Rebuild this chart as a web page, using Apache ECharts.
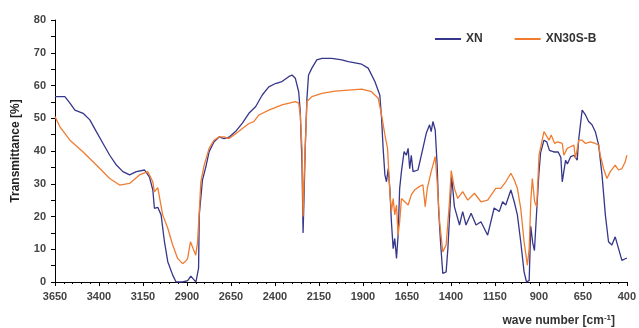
<!DOCTYPE html>
<html>
<head>
<meta charset="utf-8">
<script src="https://cdn.jsdelivr.net/npm/echarts@6/dist/echarts.min.js"></script>
<style>
  html, body { margin: 0; padding: 0; background: #fff; }
  #main { width: 639px; height: 328px; }
</style>
</head>
<body>
<div id="main"></div>
<script>
// FTIR spectra
var xnWave = [3650, 3594, 3565, 3537, 3490, 3452, 3415, 3377, 3339, 3301, 3264, 3226, 3188, 3141, 3113, 3094, 3085, 3066, 3047, 3028,
  3009, 2981, 2962, 2925, 2896, 2878, 2862, 2849, 2834, 2830, 2812, 2793, 2774, 2746, 2717, 2689, 2661, 2623, 2585, 2548,
  2510, 2472, 2435, 2397, 2360, 2322, 2303, 2284, 2265, 2256, 2246, 2240, 2235, 2228, 2218, 2209, 2190, 2162, 2133, 2077,
  2020, 1983, 1907, 1870, 1832, 1804, 1794, 1785, 1775, 1766, 1756, 1747, 1738, 1728, 1719, 1709, 1700, 1691, 1681, 1666,
  1653, 1643, 1634, 1625, 1615, 1587, 1559, 1540, 1521, 1512, 1502, 1489, 1478, 1470, 1459, 1446, 1427, 1417, 1399, 1395,
  1380, 1351, 1333, 1314, 1285, 1257, 1229, 1191, 1154, 1125, 1106, 1088, 1059, 1040, 1022, 1003, 984, 970, 955, 946,
  935, 925, 912, 900, 890, 871, 855, 840, 815, 790, 775, 767, 758, 748, 738, 720, 701, 682, 673, 654,
  635, 617, 598, 579, 570, 560, 541, 522, 504, 485, 466, 447, 428, 409, 400];
var xnT = [56.6, 56.6, 54.6, 52.5, 51.5, 49.5, 45.9, 42.3, 38.7, 35.7, 33.7, 32.7, 33.7, 34.2, 32.0, 28.1, 22.5, 22.8, 20.5, 12.3,
  6.2, 2.1, 0, 0, 0.4, 1.8, 0.8, 0, 4.2, 20.5, 31.1, 35.1, 39.8, 42.8, 44.3, 43.8, 44.2, 46, 48.5, 51.5,
  53.5, 57.1, 59.6, 60.6, 61.2, 62.7, 63.2, 62.2, 58.1, 52, 35.7, 15, 25, 40.8, 56.1, 63.2, 65.3, 67.8, 68.3, 68.3,
  67.8, 67.3, 66.5, 65.3, 61.2, 57.1, 50, 40.8, 32.7, 30.6, 34.6, 28.6, 18.4, 10.2, 13.3, 7.2, 14.3, 28.6, 33.7, 39.8,
  38.7, 40.8, 34.6, 38.7, 33.7, 34.2, 40.8, 45.4, 48, 45.9, 49, 46.4, 35.7, 22.5, 12.3, 2.6, 3.1, 10.2, 28.6, 32,
  23, 17.4, 21.5, 17.4, 21, 17.4, 18.4, 14.3, 22.6, 21.5, 24.5, 23.5, 28.1, 24.5, 20.5, 12.3, 3.1, 0, 0.5, 17,
  12, 9.6, 22, 33, 39.5, 43.3, 42.8, 40.2, 39.7, 39.7, 38, 30.6, 31, 37.2, 36, 38.2, 38.7, 37.2, 43.8, 52.5,
  51, 49, 48, 45.9, 46.4, 41.8, 32.7, 20.5, 12.3, 11.3, 13.8, 10.2, 6.6, 7.1, 7.3];

var xbWave = [3650, 3622, 3565, 3490, 3415, 3339, 3283, 3226, 3170, 3123, 3094, 3085, 3066, 3056, 3038, 3009, 2981, 2953, 2925, 2905,
  2896, 2880, 2865, 2850, 2840, 2830, 2821, 2802, 2774, 2746, 2717, 2689, 2661, 2623, 2585, 2548, 2520, 2491, 2435, 2360,
  2284, 2265, 2256, 2246, 2240, 2235, 2228, 2218, 2190, 2133, 2058, 1983, 1907, 1851, 1813, 1794, 1775, 1760, 1747, 1738,
  1728, 1719, 1709, 1700, 1691, 1681, 1662, 1643, 1625, 1606, 1578, 1559, 1546, 1534, 1512, 1489, 1478, 1464, 1446, 1427,
  1408, 1398, 1380, 1361, 1333, 1304, 1266, 1229, 1191, 1145, 1116, 1088, 1059, 1040, 1022, 1003, 984, 965, 955, 946,
  937, 924, 912, 899, 871, 842, 830, 810, 795, 767, 758, 739, 720, 701, 692, 673, 654, 635, 607, 579,
  560, 551, 532, 513, 494, 466, 447, 428, 409, 400];
var xbT = [50.5, 47.4, 43.3, 39.7, 35.7, 31.6, 29.6, 30.1, 32.7, 33.7, 30.6, 27.5, 28.8, 28.6, 20.5, 16.4, 11.3, 7.2, 5.6, 6.5,
  7.2, 12.3, 10.2, 8.2, 12, 21.5, 30.6, 35.7, 40.8, 43.3, 44.3, 44.3, 43.8, 45.3, 46.9, 48.4, 49, 51, 52.5, 54.1,
  55.1, 54.6, 51, 40.8, 20, 30, 40.8, 55.1, 56.6, 57.6, 58.3, 58.6, 58.9, 58.1, 56.1, 51, 44.9, 40.8, 27.5, 21.5,
  25.5, 20.5, 23.5, 14.3, 18.4, 25.5, 24.5, 23.5, 26.6, 28.1, 29.2, 29.7, 23, 28.6, 33.7, 38.3, 30.6, 18.4, 9.2, 11.3,
  24.5, 34, 28.6, 25.5, 27.6, 25, 27.1, 24.5, 25, 28.6, 28.6, 30.6, 33.2, 31.2, 28.6, 22.5, 12.3, 5.1, 10.2, 24.5,
  31.6, 24.5, 23, 38.7, 45.9, 43.3, 44.9, 42.3, 42.8, 42.3, 38.7, 40.8, 41.3, 41.8, 37.7, 43.3, 43.3, 42.3, 42.8, 42.3,
  41.8, 38.7, 34.6, 31.6, 33.7, 35.7, 34.2, 34.6, 36.7, 38.7];

var seriesNames = ['XN', 'XN30S-B'];

function pairs(xs, ys) {
  var out = [];
  for (var i = 0; i < xs.length; i++) out.push([xs[i], ys[i]]);
  return out;
}

var myChart = echarts.init(document.getElementById('main'));
var font = 'Liberation Sans, Arial, sans-serif';
option = {
  animation: false,
  backgroundColor: '#fff',
  grid: { left: 55, right: 9, top: 20, bottom: 46 },
  legend: {
    data: seriesNames,
    left: 430, top: 28,
    icon: 'rect', itemWidth: 26, itemHeight: 2, itemGap: 32,
    textStyle: { fontFamily: font, fontWeight: 'bold', fontSize: 12, color: '#333' }
  },
  xAxis: {
    type: 'value',
    inverse: true,
    min: 400, max: 3650, interval: 250,
    axisLine: { lineStyle: { color: '#000', width: 1 } },
    axisTick: { length: 4, lineStyle: { color: '#000' } },
    minorTick: { show: true, splitNumber: 5, length: 2, lineStyle: { color: '#000' } },
    splitLine: { show: false },
    axisLabel: {
      margin: 9, fontFamily: font, fontWeight: 'bold', fontSize: 11, color: '#444',
      formatter: function (v) { return String(v); }
    }
  },
  yAxis: {
    type: 'value',
    min: 0, max: 80, interval: 10,
    name: 'Transmittance [%]',
    nameLocation: 'middle', nameGap: 33,
    nameTextStyle: { fontFamily: font, fontWeight: 'bold', fontSize: 12, color: '#222' },
    axisLine: { show: true, lineStyle: { color: '#000', width: 1 } },
    axisTick: { show: true, length: 4, lineStyle: { color: '#000' } },
    minorTick: { show: true, splitNumber: 2, length: 4, lineStyle: { color: '#000' } },
    splitLine: { show: false },
    axisLabel: { margin: 9, fontFamily: font, fontWeight: 'bold', fontSize: 11, color: '#444' }
  },
  graphic: [{
    type: 'text',
    right: 24, bottom: 1,
    style: {
      text: 'wave number [cm{sup|-1}]',
      font: 'bold 12px Liberation Sans, Arial, sans-serif',
      fill: '#333',
      rich: {
        sup: { fontSize: 8, fontWeight: 'bold', fontFamily: font, fill: '#333', verticalAlign: 'top', padding: [0, 0, 6, 0] }
      }
    }
  }],
  series: [
    {
      name: seriesNames[0], type: 'line', data: pairs(xnWave, xnT),
      showSymbol: false, symbol: 'none',
      lineStyle: { color: '#36368a', width: 1.3 },
      itemStyle: { color: '#36368a' }
    },
    {
      name: seriesNames[1], type: 'line', data: pairs(xbWave, xbT),
      showSymbol: false, symbol: 'none',
      lineStyle: { color: '#f07c30', width: 1.3 },
      itemStyle: { color: '#f07c30' }
    }
  ]
};
myChart.setOption(option);
</script>
</body>
</html>
